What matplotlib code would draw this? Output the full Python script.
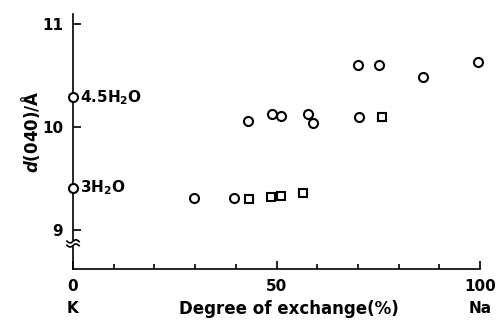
import matplotlib
matplotlib.use('Agg')
import matplotlib.pyplot as plt
import numpy as np

# degree of exchange (%) vs d(040) spacing
circle_x = [0, 0, 29.7, 39.6, 43.0, 48.9, 51.1, 57.7, 59.0, 70.3, 70.0, 75.2, 86.0, 99.5]
circle_y = [10.29, 9.41, 9.31, 9.31, 10.06, 10.13, 10.11, 10.13, 10.04, 10.10, 10.60, 10.60, 10.49, 10.63]
square_x = [43.2, 48.6, 51.1, 56.5, 75.9]
square_y = [9.30, 9.32, 9.33, 9.36, 10.10]

hydrate_labels = ['4.5H$_2$O', '3H$_2$O']
hydrate_y = [10.29, 9.41]

xticks = [0, 50, 100]
xticklabels = ['0\nK', '50', '100\nNa']
yticks = [9, 10, 11]

plt.rcParams['font.family'] = 'DejaVu Sans'
plt.rcParams['font.weight'] = 'bold'
plt.rcParams['axes.labelweight'] = 'bold'
plt.rcParams['mathtext.default'] = 'bf'

fig = plt.figure(figsize=(5, 3.2), dpi=100)
ax = fig.add_axes([0.146, 0.159, 0.814, 0.797])

ax.plot(circle_x, circle_y, 'o', ms=6.5, mfc='white', mec='black', mew=1.5,
        ls='none', clip_on=False, zorder=5)
ax.plot(square_x, square_y, 's', ms=6, mfc='white', mec='black', mew=1.5,
        ls='none', clip_on=False, zorder=5)

for lab, yv in zip(hydrate_labels, hydrate_y):
    ax.annotate(lab, (0, yv), xytext=(5, 0), textcoords='offset points',
                va='center', ha='left', fontsize=11)

ax.set_xlim(0, 100)
ax.set_ylim(8.62, 11.1)
for s in ['top', 'right']:
    ax.spines[s].set_visible(False)
for s in ['left', 'bottom']:
    ax.spines[s].set_linewidth(1.2)

ax.set_xticks(xticks)
ax.set_xticklabels(xticklabels, fontsize=11, linespacing=1.6, va='top')
ax.set_xticks(np.arange(10, 100, 10), minor=True)
ax.set_yticks(yticks)
ax.set_yticklabels([str(t) for t in yticks], fontsize=11)
ax.tick_params(axis='both', which='major', direction='in', length=6, width=1.2, pad=7)
ax.tick_params(axis='x', which='minor', direction='in', length=3.5, width=1.2)

ax.set_xlabel('Degree of exchange(%)', fontsize=12)
ax.xaxis.set_label_coords(0.53, -0.12)

ax.set_ylabel('$\\mathit{d}$(040)/Å', fontsize=12)
ax.yaxis.set_label_coords(-0.075, 0.54)

# axis break marks
t = np.linspace(-1.5, 1.5, 30)
for yoff in [8.89, 8.85]:
    ax.plot(t, yoff + 0.015 * np.sin(t * 2.2), color='black', lw=1.2,
            clip_on=False, zorder=6)
ax.fill_between([-1.6, 1.6], 8.85, 8.89, color='white', zorder=5.5, clip_on=False)

fig.savefig('out.png', dpi=100)
